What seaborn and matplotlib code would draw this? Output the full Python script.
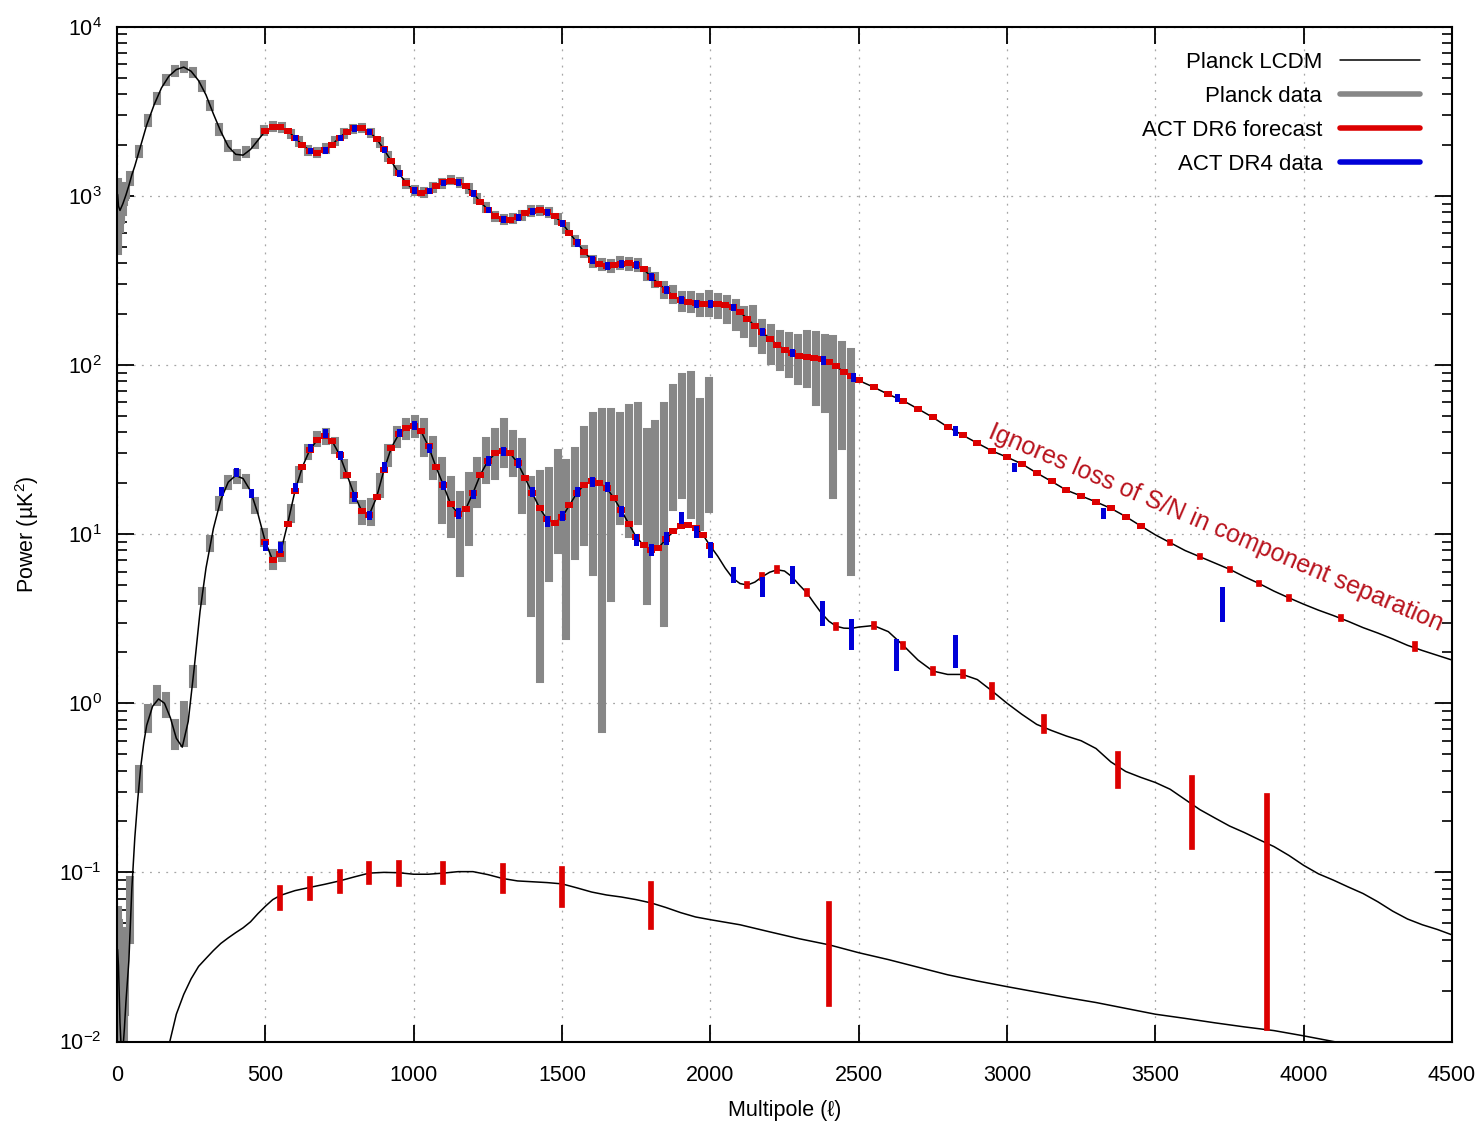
import numpy as np
import matplotlib
matplotlib.use("Agg")
import matplotlib.pyplot as plt
from matplotlib.lines import Line2D
from matplotlib.ticker import LogLocator, NullLocator, FixedLocator
import seaborn as sns

# ---------------------------------------------------------------------------
# Planck LCDM model spectra, D_ell in uK^2
# ---------------------------------------------------------------------------
TT_MODEL_ELL = ([2, 5, 10, 20, 30, 40, 50, 60, 75, 100, 125, 150, 175, 200, 225,
                 250, 275, 300, 325, 350, 375, 400, 425, 450, 475]
                + list(range(500, 2501, 25)) + list(range(2550, 4501, 50)))
TT_MODEL = [
    1020, 870, 820, 900, 1010, 1150, 1330, 1500, 1850, 2620, 3450, 4350, 5100, 5580, 5770,
    5450, 4800, 3950, 3050, 2400, 1960, 1760, 1740, 1880, 2130,
    # 500 .. 2500, step 25
    2420, 2550, 2560, 2430, 2210, 2000, 1850, 1800, 1860, 2010,
    2210, 2400, 2510, 2510, 2400, 2170, 1880, 1600, 1360, 1190,
    1080, 1045, 1075, 1140, 1200, 1230, 1210, 1140, 1040, 920,
    830, 760, 725, 720, 750, 790, 815, 820, 805, 760,
    690, 605, 530, 465, 420, 395, 387, 390, 398, 400,
    392, 368, 333, 302, 278, 257, 243, 235, 231, 230,
    230, 229, 226, 219, 205, 188, 170, 157, 143, 132,
    123, 117, 113, 111, 110, 108, 104, 98, 91, 86,
    81,
    # 2550 .. 4500, step 50
    74, 67, 61.5, 55, 49, 43, 38.5, 34.5, 31, 28.5,
    26, 23, 20.5, 18.2, 16.8, 15.5, 14.2, 12.7, 11.2, 9.9,
    8.9, 8.0, 7.35, 6.75, 6.2, 5.6, 5.1, 4.6, 4.2, 3.85,
    3.55, 3.3, 3.05, 2.8, 2.6, 2.4, 2.2, 2.05, 1.92, 1.8,
]

EE_MODEL_ELL = ([2, 5, 10, 15, 20, 25, 30, 40, 50, 60, 70, 80, 90, 100, 120, 140,
                 160, 180, 200, 220, 240, 260, 280, 300, 325, 350, 375, 400, 425, 450, 475]
                + list(range(500, 2501, 25)) + list(range(2550, 4501, 50)))
EE_MODEL = [
    0.035, 0.028, 0.013, 0.0085, 0.009, 0.012, 0.017, 0.03, 0.08, 0.16,
    0.27, 0.42, 0.58, 0.74, 0.96, 1.06, 1.0, 0.82, 0.62, 0.55,
    0.78, 1.6, 3.5, 6.3, 10.8, 16.0, 20.3, 22.2, 21.3, 18.0,
    13.2,
    # 500 .. 2500, step 25
    9.0, 7.0, 7.6, 11.5, 18.0, 25.0, 31.5, 36.0, 38.0, 35.5,
    29.5, 22.5, 17.0, 13.7, 13.0, 16.5, 24.0, 32.5, 39.0, 42.5,
    43.5, 40.5, 33.0, 25.0, 19.5, 15.0, 13.2, 14.0, 17.5, 22.5,
    27.0, 30.0, 31.2, 30.0, 26.5, 21.5, 17.5, 14.2, 12.2, 11.6,
    12.6, 14.8, 17.5, 19.6, 20.5, 20.1, 18.8, 16.3, 13.8, 11.5,
    9.6, 8.6, 8.1, 8.3, 9.3, 10.4, 11.1, 11.3, 10.9, 9.9,
    8.5, 7.4, 6.3, 5.5, 5.1, 5.0, 5.2, 5.6, 5.95, 6.15,
    6.05, 5.6, 5.0, 4.5, 3.9, 3.4, 3.05, 2.85, 2.78, 2.77,
    2.82,
    # 2550 .. 4500, step 50
    2.88, 2.65, 2.2, 1.8, 1.55, 1.48, 1.48, 1.38, 1.18, 1.0,
    0.86, 0.75, 0.69, 0.64, 0.6, 0.54, 0.45, 0.395, 0.365, 0.34,
    0.31, 0.27, 0.235, 0.21, 0.188, 0.172, 0.156, 0.142, 0.126, 0.11,
    0.098, 0.09, 0.082, 0.075, 0.067, 0.059, 0.053, 0.049, 0.046, 0.0427,
]

BB_MODEL_ELL = ([150, 175, 200, 225, 250, 275, 300, 325, 350, 375, 400, 425, 450, 475,
                 500, 525, 550, 575, 600]
                + list(range(650, 2001, 50)) + list(range(2100, 4201, 100)))
BB_MODEL = [
    0.005, 0.0095, 0.0145, 0.019, 0.0235, 0.0278, 0.031, 0.0345, 0.038, 0.041,
    0.044, 0.047, 0.051, 0.057, 0.063, 0.069, 0.073, 0.0755, 0.078,
    # 650 .. 2000, step 50
    0.0815, 0.085, 0.089, 0.094, 0.099, 0.1, 0.0995, 0.0975, 0.0975, 0.099,
    0.101, 0.101, 0.097, 0.092, 0.089, 0.088, 0.087, 0.0855, 0.081, 0.0765,
    0.0735, 0.0715, 0.069, 0.066, 0.062, 0.0578, 0.0545, 0.0525,
    # 2100 .. 4200, step 100
    0.049, 0.0445, 0.0405, 0.0373, 0.0335, 0.0305, 0.0275, 0.0248, 0.0228, 0.0211,
    0.0196, 0.0182, 0.017, 0.0157, 0.0145, 0.0137, 0.0129, 0.0122, 0.0116, 0.0108,
    0.0100, 0.0093,
]

# ---------------------------------------------------------------------------
# Planck data (TT, EE): low-ell points and 30-wide bins
# ---------------------------------------------------------------------------
PLANCK_TT_LOW_ELL = [2, 3, 4, 5, 6, 8, 10, 12, 14, 17, 20, 23, 26, 29]
PLANCK_TT_LOW = [750, 980, 820, 650, 900, 780, 760, 870, 820, 930, 880, 1000, 1050, 1080]
PLANCK_TT_LOW_ERR = [250, 220, 200, 180, 160, 140, 120, 110, 100, 90, 80, 75, 70, 65]

PLANCK_TT_ELL = list(range(45, 2476, 30))
PLANCK_TT = [
    1260, 1830, 2800, 3760, 4850, 5500, 5790, 5350, 4480, 3420,
    2470, 1960, 1740, 1810, 2040, 2430, 2560, 2550, 2320, 2090,
    1860, 1805, 1895, 2110, 2340, 2490, 2520, 2350, 2070, 1700,
    1410, 1180, 1075, 1045, 1115, 1185, 1240, 1195, 1105, 960,
    850, 755, 725, 735, 768, 815, 818, 798, 730, 645,
    540, 468, 412, 393, 385, 402, 396, 392, 345, 318,
    278, 262, 238, 236, 228, 232, 225, 215, 200, 182,
    175, 150, 136, 125, 118, 112, 115, 105, 100, 80, 82, 63,
]
PLANCK_TT_ERR = [
    60, 70, 90, 110, 130, 140, 140, 130, 110, 90,
    70, 55, 45, 45, 45, 50, 50, 50, 45, 40,
    38, 36, 38, 40, 42, 45, 45, 42, 38, 33,
    28, 24, 22, 21, 22, 23, 24, 24, 23, 21,
    19, 18, 17, 17, 18, 19, 19, 19, 18, 17,
    16, 15, 14, 14, 14, 15, 15, 16, 16, 17,
    18, 19, 20, 22, 25, 30, 28, 30, 32, 30,
    40, 28, 30, 28, 30, 32, 38, 45, 45, 63, 49, 57,
]

PLANCK_EE_LOW_ELL = [2, 4, 6, 8, 10, 13, 16, 19, 22, 25, 28]
PLANCK_EE_LOW = [0.035, 0.025, 0.02, 0.03, 0.018, 0.012, 0.02, 0.015, 0.02, 0.025, 0.03]
PLANCK_EE_LOW_ERR = [0.025, 0.02, 0.015, 0.02, 0.012, 0.01, 0.012, 0.01, 0.012, 0.012, 0.015]

PLANCK_EE_ELL = list(range(45, 1996, 30))
PLANCK_EE = [
    0.065, 0.36, 0.82, 1.12, 0.98, 0.66, 0.78, 1.45, 4.3, 8.8,
    15.2, 20.3, 22.0, 20.5, 14.8, 9.6, 7.1, 7.9, 13.2, 22.5,
    30.5, 36.5, 37.8, 33.5, 24.5, 17.8, 13.5, 13.6, 19.5, 29.5,
    37.5, 42.0, 43.5, 38.0, 29.0, 19.6, 15.5, 11.5, 15.5, 21.0,
    28.2, 31.0, 36.0, 31.0, 24.4, 12.2, 12.1, 14.5, 19.0, 14.5,
    19.2, 25.0, 28.0, 26.8, 28.6, 31.0, 33.0, 34.5, 22.0, 27.0,
    30.0, 43.8, 51.0, 50.0, 35.5, 47.0,
]
PLANCK_EE_ERR = [
    0.025, 0.05, 0.12, 0.1, 0.12, 0.1, 0.2, 0.15, 0.3, 0.5,
    0.8, 1.0, 1.1, 1.1, 0.9, 0.7, 0.6, 0.7, 1.0, 1.4,
    1.7, 2.0, 2.2, 2.2, 2.0, 1.8, 1.6, 1.8, 2.2, 3.0,
    3.5, 4.0, 4.5, 8.0, 7.0, 7.5, 5.5, 5.6, 6.5, 6.0,
    7.2, 9.0, 10.0, 8.0, 10.6, 8.8, 10.7, 9.0, 11.0, 12.0,
    11.8, 16.0, 22.0, 26.1, 24.4, 19.0, 23.0, 22.5, 18.0, 18.0,
    27.0, 29.3, 34.0, 37.0, 24.5, 33.0,
]

# ---------------------------------------------------------------------------
# ACT DR6 forecast: bins on the model grid (errors below the mark size),
# plus wider bins with visible errors
# ---------------------------------------------------------------------------
FORECAST_TT_RANGE = (500, 3450)
FORECAST_EE_RANGE = (500, 2000)

FORECAST_TT_ELL = [3550, 3650, 3750, 3850, 3950, 4125, 4375]
FORECAST_TT = [8.9, 7.35, 6.2, 5.1, 4.2, 3.18, 2.16]
FORECAST_TT_ERR = [0.06, 0.05, 0.05, 0.04, 0.04, 0.05, 0.08]

FORECAST_EE_ELL = [2125, 2175, 2225, 2325, 2425, 2550, 2650, 2750, 2850, 2950, 3125, 3375, 3625, 3875]
FORECAST_EE = [5.0, 5.6, 6.15, 4.5, 2.85, 2.88, 2.2, 1.55, 1.48, 1.19, 0.757, 0.413, 0.251, 0.147]
FORECAST_EE_ERR = [0.1, 0.1, 0.12, 0.09, 0.06, 0.06, 0.05, 0.04, 0.04, 0.1, 0.07, 0.09, 0.11, 0.135]

FORECAST_BB_ELL = [550, 650, 750, 850, 950, 1100, 1300, 1500, 1800, 2400]
FORECAST_BB = [0.071, 0.081, 0.089, 0.100, 0.0996, 0.0996, 0.093, 0.084, 0.0665, 0.0407]
FORECAST_BB_ERR = [0.0095, 0.01, 0.011, 0.0125, 0.0145, 0.012, 0.0155, 0.02, 0.019, 0.024]

# ---------------------------------------------------------------------------
# ACT DR4 data
# ---------------------------------------------------------------------------
DR4_TT_ELL = list(range(600, 2001, 50)) + [2075, 2175, 2275, 2380, 2480, 2630, 2825, 3025, 3325, 3725]
DR4_TT = [2210, 1850, 1860, 2210, 2510, 2400, 1880, 1360, 1080, 1075,
          1200, 1210, 1040, 830, 725, 750, 815, 805, 690, 530,
          420, 387, 398, 392, 333, 278, 243, 231, 230,
          220, 157, 118, 107, 85, 64, 41, 25, 13.3, 3.95]
DR4_TT_ERR = [25, 20, 20, 24, 27, 26, 21, 16, 13, 13,
              14, 14, 13, 11, 10, 10, 11, 11, 10, 8,
              7, 7, 7, 7, 6, 6, 5, 5, 5,
              4, 3, 2.5, 2.5, 2, 1.5, 1.2, 0.7, 0.5, 0.8]

DR4_EE_ELL = list(range(350, 2001, 50)) + [2075, 2175, 2275, 2375, 2475, 2625, 2825]
DR4_EE = [18.1, 23.4, 17.5, 8.6, 8.4, 19.1, 32.5, 39.5, 29.4, 16.7,
          13.0, 25.1, 39.9, 44.3, 32.2, 19.5, 13.3, 17.2, 27.2, 31.0,
          26.5, 17.8, 12.0, 12.9, 17.8, 20.5, 19.1, 13.7, 9.25, 8.1,
          9.46, 12.6, 10.4, 8.1,
          5.8, 4.95, 5.8, 3.45, 2.6, 1.98, 2.08]
DR4_EE_ERR = [0.5, 0.6, 0.5, 0.3, 0.3, 0.5, 0.8, 1.0, 0.8, 0.5,
              0.4, 0.7, 1.0, 1.1, 0.9, 0.6, 0.5, 0.5, 0.8, 0.9,
              0.8, 0.6, 0.45, 0.5, 0.6, 0.7, 0.7, 0.55, 0.45, 0.4,
              0.5, 0.6, 0.5, 0.6,
              0.45, 0.5, 0.5, 0.45, 0.45, 0.36, 0.4]

LEGEND_LABELS = ["Planck LCDM", "Planck data", "ACT DR6 forecast", "ACT DR4 data"]
NOTE_TEXT = "Ignores loss of S/N in component separation"

for a, b in [(TT_MODEL_ELL, TT_MODEL), (EE_MODEL_ELL, EE_MODEL), (BB_MODEL_ELL, BB_MODEL),
             (PLANCK_TT_ELL, PLANCK_TT), (PLANCK_TT_ELL, PLANCK_TT_ERR),
             (PLANCK_EE_ELL, PLANCK_EE), (PLANCK_EE_ELL, PLANCK_EE_ERR),
             (DR4_TT_ELL, DR4_TT), (DR4_TT_ELL, DR4_TT_ERR),
             (DR4_EE_ELL, DR4_EE), (DR4_EE_ELL, DR4_EE_ERR)]:
    assert len(a) == len(b), (len(a), len(b))

# ---------------------------------------------------------------------------
# Style
# ---------------------------------------------------------------------------
sns.set_theme(style="ticks")
plt.rcParams.update({
    "font.family": ["Liberation Sans", "DejaVu Sans"],
    "mathtext.fontset": "custom",
    "mathtext.rm": "Liberation Sans",
    "mathtext.it": "Liberation Sans:italic",
    "mathtext.bf": "Liberation Sans:bold",
    "axes.unicode_minus": False,
    "text.color": "black",
    "axes.labelcolor": "black",
    "xtick.color": "black",
    "ytick.color": "black",
    "axes.edgecolor": "black",
})

GRAY = "#878787"
RED = "#dc0000"
BLUE = "#0000d8"
NOTE_COLOR = "#b8121c"

# bin mark: a short bar slightly wider than tall, so neighbouring bins join up
BIN_MARK = [(-0.5, -0.42), (0.5, -0.42), (0.5, 0.42), (-0.5, 0.42)]

fig = plt.figure(figsize=(14.81, 11.24), dpi=100)
fig.patch.set_facecolor("white")
ax = fig.add_axes([117 / 1481, 1 - 1041.5 / 1124, 1335 / 1481, 1014.8 / 1124])
ax.set_facecolor("white")


def error_bars(ell, val, err, color, lw, z):
    ell = np.asarray(ell, float)
    val = np.asarray(val, float)
    err = np.asarray(err, float)
    lo = np.maximum(val - err, 1e-3)
    hi = val + err
    lc = ax.vlines(ell, lo, hi, colors=color, linewidth=lw, zorder=z)
    lc.set_capstyle("projecting")
    return lc


# Planck data
error_bars(PLANCK_TT_LOW_ELL + PLANCK_TT_ELL, PLANCK_TT_LOW + PLANCK_TT,
           PLANCK_TT_LOW_ERR + PLANCK_TT_ERR, GRAY, 5.8, 2)
error_bars(PLANCK_EE_LOW_ELL + PLANCK_EE_ELL, PLANCK_EE_LOW + PLANCK_EE,
           PLANCK_EE_LOW_ERR + PLANCK_EE_ERR, GRAY, 5.8, 2)

# Model curves
for ell, d in [(TT_MODEL_ELL, TT_MODEL), (EE_MODEL_ELL, EE_MODEL), (BB_MODEL_ELL, BB_MODEL)]:
    sns.lineplot(x=ell, y=d, ax=ax, color="black", linewidth=1.1,
                 estimator=None, sort=False, zorder=3)

# ACT DR6 forecast: narrow bins taken at the model grid points
tt_lookup = dict(zip(TT_MODEL_ELL, TT_MODEL))
ee_lookup = dict(zip(EE_MODEL_ELL, EE_MODEL))
fc_tt_ell = [l for l in TT_MODEL_ELL if FORECAST_TT_RANGE[0] <= l <= FORECAST_TT_RANGE[1]]
fc_ee_ell = [l for l in EE_MODEL_ELL if FORECAST_EE_RANGE[0] <= l <= FORECAST_EE_RANGE[1]]
sns.scatterplot(x=fc_tt_ell + fc_ee_ell,
                y=[tt_lookup[l] for l in fc_tt_ell] + [ee_lookup[l] for l in fc_ee_ell],
                marker=BIN_MARK, s=30, color=RED, linewidth=0, zorder=4, ax=ax, legend=False)
error_bars(FORECAST_TT_ELL, FORECAST_TT, FORECAST_TT_ERR, RED, 4.1, 4)
error_bars(FORECAST_EE_ELL, FORECAST_EE, FORECAST_EE_ERR, RED, 4.1, 4)
error_bars(FORECAST_BB_ELL, FORECAST_BB, FORECAST_BB_ERR, RED, 4.1, 4)

# ACT DR4 data
error_bars(DR4_TT_ELL, DR4_TT, DR4_TT_ERR, BLUE, 3.6, 5)
error_bars(DR4_EE_ELL, DR4_EE, DR4_EE_ERR, BLUE, 3.6, 5)

# Axes
ax.set_yscale("log")
ax.set_xlim(0, 4500)
ax.set_ylim(1e-2, 1e4)
ax.xaxis.set_major_locator(FixedLocator(np.arange(0, 4501, 500)))
ax.xaxis.set_minor_locator(NullLocator())
ax.yaxis.set_major_locator(FixedLocator([1e-2, 1e-1, 1e0, 1e1, 1e2, 1e3, 1e4]))
ax.yaxis.set_minor_locator(LogLocator(base=10, subs=np.arange(2, 10), numticks=100))
ax.tick_params(axis="both", which="both", direction="in", top=True, right=True)
ax.tick_params(which="major", length=12.5, width=1.3, labelsize=15.5)
ax.tick_params(which="minor", length=7, width=1.2)
ax.tick_params(axis="x", which="major", pad=17)
ax.tick_params(axis="y", which="major", pad=11)
for s in ax.spines.values():
    s.set_linewidth(1.5)
    s.set_color("black")
ax.set_axisbelow(True)
ax.grid(True, which="major", color="#a6a6a6", linestyle=(0, (1.5, 5)), linewidth=0.9)
ax.grid(False, which="minor")

ax.set_xlabel("Multipole (ℓ)", fontsize=15.5, labelpad=10)
ax.set_ylabel("Power (µK$^2$)", fontsize=15.5, labelpad=13)

handles = [Line2D([], [], color="black", linewidth=1.1),
           Line2D([], [], color=GRAY, linewidth=4.0),
           Line2D([], [], color=RED, linewidth=4.0),
           Line2D([], [], color=BLUE, linewidth=4.0)]
ax.legend(handles, LEGEND_LABELS, loc="upper right", bbox_to_anchor=(0.976, 0.975),
          frameon=False, markerfirst=False, handlelength=3.6, handletextpad=0.8,
          labelspacing=0.58, fontsize=16, borderaxespad=0, borderpad=0)

ax.text(3705, 10.9, NOTE_TEXT, rotation=-23.2, rotation_mode="anchor",
        ha="center", va="center", color=NOTE_COLOR, fontsize=18, zorder=6)

fig.savefig("out.png", dpi=100, facecolor="white")
